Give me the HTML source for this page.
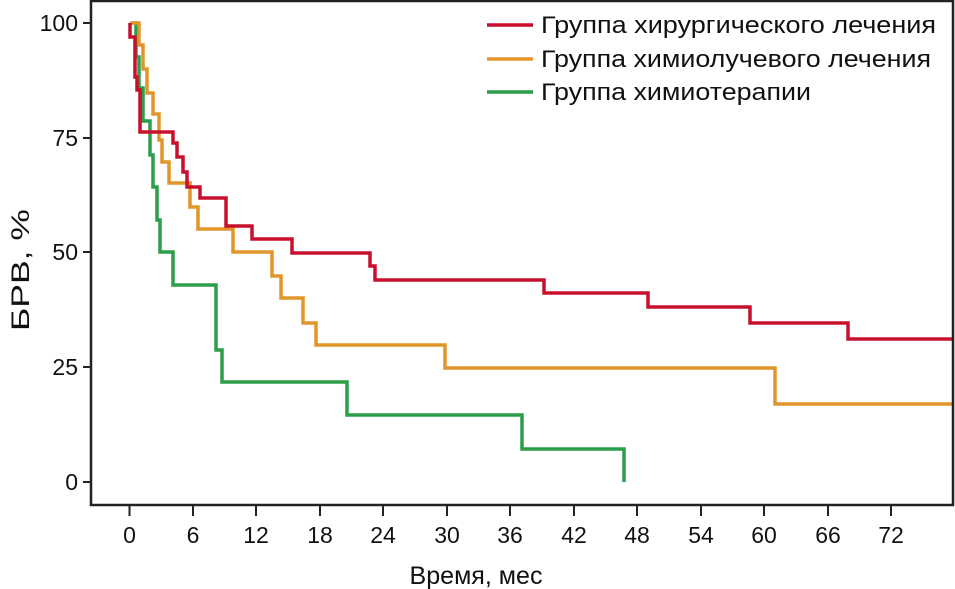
<!DOCTYPE html>
<html><head><meta charset="utf-8"><style>
html,body{margin:0;padding:0;background:#fff;}
svg{display:block;font-family:"Liberation Sans",sans-serif;}
</style></head><body>
<svg width="955" height="589" viewBox="0 0 955 589">
<rect x="0" y="0" width="955" height="589" fill="#fff"/>
<g fill="none" stroke-width="3.5" stroke-linejoin="miter">
<polyline stroke="#2a9e48" points="133,23 136,23 136,57 139,57 139,88 143,88 143,121 150,121 150,155 153,155 153,187 157,187 157,220 160,220 160,252 173,252 173,285 216,285 216,350 222,350 222,382 347,382 347,415 522,415 522,449 624,449 624,482"/>
<polyline stroke="#e0962a" points="130,23 139,23 139,45 143,45 143,69 147,69 147,93 153,93 153,114 159,114 159,140 162,140 162,162 169,162 169,183 190,183 190,207 198,207 198,229 233,229 233,252 272,252 272,276 281,276 281,298 303,298 303,323 316,323 316,345 445,345 445,368 775,368 775,404 952,404"/>
<polyline stroke="#c8102e" points="130,23 130,37 135,37 135,77 137,77 137,90 140,90 140,132 173,132 173,143 177,143 177,157 183,157 183,172 187,172 187,187 200,187 200,198 226,198 226,226 252,226 252,239 292,239 292,253 370,253 370,266 375,266 375,280 544,280 544,293 648,293 648,307 750,307 750,323 848,323 848,339 952,339"/>
</g>
<g stroke="#222" stroke-width="2.5" fill="none">
<polyline points="91,0 91,505 953,505 953,0"/>
<line x1="91" y1="1" x2="953" y2="1"/>
</g>
<g stroke="#222" stroke-width="2">
<line x1="83" y1="23" x2="91" y2="23"/><line x1="83" y1="138" x2="91" y2="138"/><line x1="83" y1="252" x2="91" y2="252"/><line x1="83" y1="367" x2="91" y2="367"/><line x1="83" y1="482" x2="91" y2="482"/>
<line x1="129.5" y1="505" x2="129.5" y2="516"/><line x1="193" y1="505" x2="193" y2="516"/><line x1="256" y1="505" x2="256" y2="516"/><line x1="320" y1="505" x2="320" y2="516"/><line x1="383" y1="505" x2="383" y2="516"/><line x1="447" y1="505" x2="447" y2="516"/><line x1="510" y1="505" x2="510" y2="516"/><line x1="574" y1="505" x2="574" y2="516"/><line x1="637" y1="505" x2="637" y2="516"/><line x1="701" y1="505" x2="701" y2="516"/><line x1="764" y1="505" x2="764" y2="516"/><line x1="828" y1="505" x2="828" y2="516"/><line x1="891" y1="505" x2="891" y2="516"/>
</g>
<g font-size="23" fill="#111" text-anchor="end">
<text x="78" y="31">100</text><text x="78" y="146">75</text><text x="78" y="260">50</text><text x="78" y="375">25</text><text x="78" y="490">0</text>
</g>
<g font-size="23" fill="#111" text-anchor="middle">
<text x="129.5" y="543">0</text><text x="193" y="543">6</text><text x="256" y="543">12</text><text x="320" y="543">18</text><text x="383" y="543">24</text><text x="447" y="543">30</text><text x="510" y="543">36</text><text x="574" y="543">42</text><text x="637" y="543">48</text><text x="701" y="543">54</text><text x="764" y="543">60</text><text x="828" y="543">66</text><text x="891" y="543">72</text>
<text x="476" y="584" font-size="25" textLength="133" lengthAdjust="spacingAndGlyphs">Время, мес</text>
<text x="0" y="0" font-size="25" textLength="122" lengthAdjust="spacingAndGlyphs" transform="translate(29,270) rotate(-90)">БРВ, %</text>
</g>
<g stroke-width="3.5">
<line x1="487" y1="25" x2="533" y2="25" stroke="#c8102e"/>
<line x1="487" y1="59" x2="533" y2="59" stroke="#e0962a"/>
<line x1="487" y1="92" x2="533" y2="92" stroke="#2a9e48"/>
</g>
<g font-size="24" fill="#111">
<text x="541" y="33" textLength="395" lengthAdjust="spacingAndGlyphs">Группа хирургического лечения</text>
<text x="541" y="67" textLength="390" lengthAdjust="spacingAndGlyphs">Группа химиолучевого лечения</text>
<text x="541" y="100" textLength="270" lengthAdjust="spacingAndGlyphs">Группа химиотерапии</text>
</g>
</svg>
</body></html>
